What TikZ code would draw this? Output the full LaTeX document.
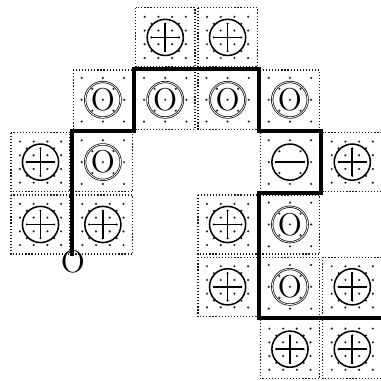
\documentclass[tikz,border=0pt]{standalone}
\usetikzlibrary{positioning}

\tikzset{
  cellbox/.style={draw=black!90, line width=0.6pt, dash pattern=on 0.55pt off 0.85pt},
  dotc/.style={fill=black!85},
  plussym/.style={circle, draw, line width=0.7pt, minimum size=0.58cm, inner sep=0pt},
  zerosym/.style={circle, draw, double, line width=0.32pt, double distance=0.35pt,
    minimum size=0.57cm, inner sep=0pt, font=\Large},
  bar/.style={line width=0.75pt},
  wall/.style={line width=1.8pt, line join=miter},
  lbl/.style={inner sep=0pt, font=\Large},
}

\begin{document}
\begin{tikzpicture}
    \useasboundingbox (-0.15,0.10) rectangle (5.96,-6.0);

    % dicht gepunktete Felder
    \foreach \i/\j in {2/0,3/0,0/2,5/2,0/3,1/3,3/3,3/4,5/4,4/5,5/5} {
        \draw[cellbox] (\i+0.025,-\j-0.025) rectangle (\i+0.975,-\j-0.975);
        \foreach \k in {2,4,6}
            \foreach \m in {0.28,0.5,0.72}
                \fill[dotc] (\i+\m,-\j-0.06-0.11*\k) circle (0.55pt);
        \foreach \k in {1,3,5,7}
            \foreach \m in {0.17,0.39,0.61,0.83}
                \fill[dotc] (\i+\m,-\j-0.06-0.11*\k) circle (0.55pt);
    }

    % locker gepunktete Felder
    \foreach \i/\j in {1/1,2/1,3/1,4/1,1/2,4/2,4/3,4/4} {
        \draw[cellbox] (\i+0.025,-\j-0.025) rectangle (\i+0.975,-\j-0.975);
        \foreach \y in {0.15,0.5,0.85}
            \foreach \m in {0.16,0.5,0.84}
                \fill[dotc] (\i+\m,-\j-\y) circle (0.55pt);
        \foreach \y in {0.325,0.675}
            \foreach \m in {0.33,0.67}
                \fill[dotc] (\i+\m,-\j-\y) circle (0.55pt);
    }

    % Plus
    \foreach \i/\j in {2/0,3/0,0/2,5/2,0/3,1/3,3/3,3/4,5/4,4/5,5/5} {
        \node[plussym] (p-\i-\j) at (\i+0.5,-\j-0.5) {};
        \draw[bar] ([xshift=-0.23cm]p-\i-\j.center) -- ([xshift=0.23cm]p-\i-\j.center);
        \draw[bar] ([yshift=-0.23cm]p-\i-\j.center) -- ([yshift=0.23cm]p-\i-\j.center);
    }

    % Null
    \foreach \i/\j in {1/1,2/1,3/1,4/1,1/2,4/3,4/4}
        \node[zerosym] (z-\i-\j) at (\i+0.5,-\j-0.5) {O};

    % Minus
    \node[plussym] (m-4-2) at (4.5,-2.5) {};
    \draw[bar] ([xshift=-0.24cm]m-4-2.center) -- ([xshift=0.24cm]m-4-2.center);

    % Weg
    \coordinate (s) at (1,-4);
    \node[lbl] (start) at (1.02,-4.1) {O};
    \draw[wall] (s) |- (2,-2) |- (4,-1) |- (5,-2) |- (4,-3) |- (6.1,-5);
\end{tikzpicture}
\end{document}
